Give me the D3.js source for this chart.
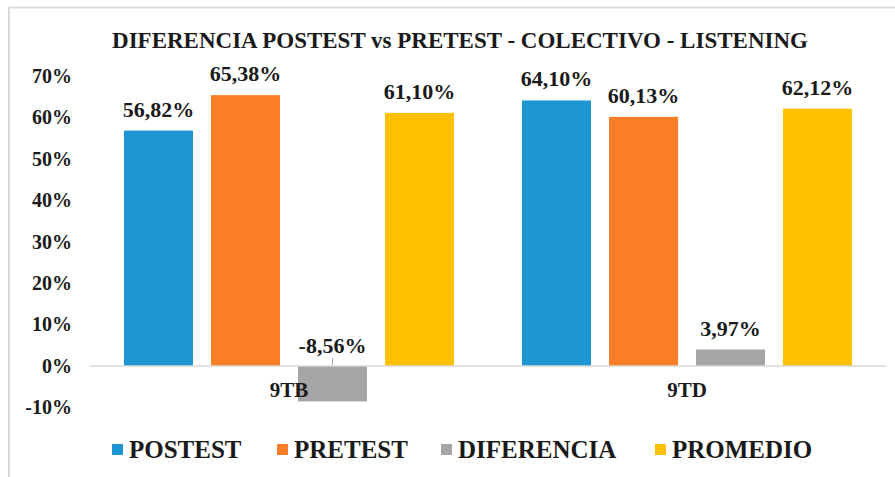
<!DOCTYPE html>
<html>
<head>
<meta charset="utf-8">
<script src="https://cdn.jsdelivr.net/npm/d3@7"></script>
<style>
  html, body { margin: 0; padding: 0; background: #ffffff; }
  svg { display: block; }
  text { font-family: "Liberation Serif", "Times New Roman", serif; font-weight: bold; fill: #1a1a1a; }
</style>
</head>
<body>
<script>
const categories = ["9TB", "9TD"];
const seriesNames = ["POSTEST", "PRETEST", "DIFERENCIA", "PROMEDIO"];
const postest = [56.82, 64.10];
const pretest = [65.38, 60.13];
const diferencia = [-8.56, 3.97];
const promedio = [61.10, 62.12];
const yTickValues = [-10, 0, 10, 20, 30, 40, 50, 60, 70];
const colors = ["#1F96D4", "#FA7D27", "#A5A5A5", "#FFC000"];
const titleText = "DIFERENCIA POSTEST vs PRETEST - COLECTIVO - LISTENING";

const seriesValues = [postest, pretest, diferencia, promedio];
const data = categories.map((c, i) => ({
  category: c,
  values: seriesNames.map((s, j) => ({ series: s, value: seriesValues[j][i], color: colors[j] }))
}));

const W = 895, H = 477;
const svg = d3.select("body").append("svg").attr("width", W).attr("height", H);

// outer chart border (top & left visible)
svg.append("line").attr("x1", 9).attr("x2", W).attr("y1", 7.5).attr("y2", 7.5)
  .attr("stroke", "#d9d9d9").attr("stroke-width", 2);
svg.append("line").attr("x1", 9).attr("x2", 9).attr("y1", 7).attr("y2", H)
  .attr("stroke", "#d9d9d9").attr("stroke-width", 2);

// title
svg.append("text").attr("x", 460).attr("y", 48).attr("text-anchor", "middle")
  .style("font-size", "23px").text(titleText);

const x0 = d3.scaleBand().domain(categories).range([90, 886]).paddingInner(0).paddingOuter(0);
const x1 = d3.scaleBand().domain(seriesNames).range([34, 364]).paddingInner(18 / 87).paddingOuter(0);
const y = d3.scaleLinear().domain([-10, 70]).range([407.4, 76]);

// y axis labels
const yAxis = d3.axisLeft(y).tickValues(yTickValues).tickFormat(d => d + "%").tickSize(0).tickPadding(0);
const yg = svg.append("g").attr("transform", "translate(72,0)").call(yAxis);
yg.select(".domain").remove();
yg.attr("font-family", null).attr("font-size", null);
yg.selectAll("text").style("font-size", "20px").attr("fill", "#1a1a1a")
  .style("font-family", "'Liberation Serif', 'Times New Roman', serif").style("font-weight", "bold");

// bars
const groups = svg.selectAll("g.cat").data(data).join("g").attr("class", "cat")
  .attr("transform", d => `translate(${x0(d.category)},0)`);

groups.selectAll("rect").data(d => d.values).join("rect")
  .attr("x", d => x1(d.series))
  .attr("width", x1.bandwidth())
  .attr("y", d => y(Math.max(0, d.value)))
  .attr("height", d => Math.abs(y(d.value) - y(0)))
  .attr("fill", d => d.color);

// zero line
svg.append("line").attr("x1", 90).attr("x2", 886).attr("y1", y(0)).attr("y2", y(0))
  .attr("stroke", "#d9d9d9").attr("stroke-width", 1.5);

// leader lines for negative values
groups.selectAll("line.leader").data(d => d.values.filter(v => v.value < 0)).join("line")
  .attr("class", "leader")
  .attr("x1", d => x1(d.series) + x1.bandwidth() / 2)
  .attr("x2", d => x1(d.series) + x1.bandwidth() / 2)
  .attr("y1", y(0) - 8).attr("y2", y(0))
  .attr("stroke", "#a6a6a6").attr("stroke-width", 1);

// value labels
const fmt = v => v.toFixed(2).replace(".", ",") + "%";
groups.selectAll("text.val").data(d => d.values).join("text")
  .attr("class", "val")
  .attr("x", d => x1(d.series) + x1.bandwidth() / 2)
  .attr("y", d => d.value >= 0 ? y(d.value) - 14 : y(0) - 13)
  .attr("text-anchor", "middle")
  .style("font-size", "22px")
  .text(d => fmt(d.value));

// category labels
svg.selectAll("text.cat").data(categories).join("text")
  .attr("class", "cat")
  .attr("x", d => x0(d) + x0.bandwidth() / 2)
  .attr("y", 397)
  .attr("text-anchor", "middle")
  .style("font-size", "21px")
  .text(d => d);

// legend
const legendX = [112, 277, 441, 655];
const lg = svg.selectAll("g.leg").data(seriesNames).join("g").attr("class", "leg")
  .attr("transform", (d, i) => `translate(${legendX[i]},0)`);
lg.append("rect").attr("x", 0).attr("y", 444).attr("width", 11).attr("height", 11)
  .attr("fill", (d, i) => colors[i]);
lg.append("text").attr("x", 17).attr("y", 458).style("font-size", "25px").text(d => d);
</script>
</body>
</html>
